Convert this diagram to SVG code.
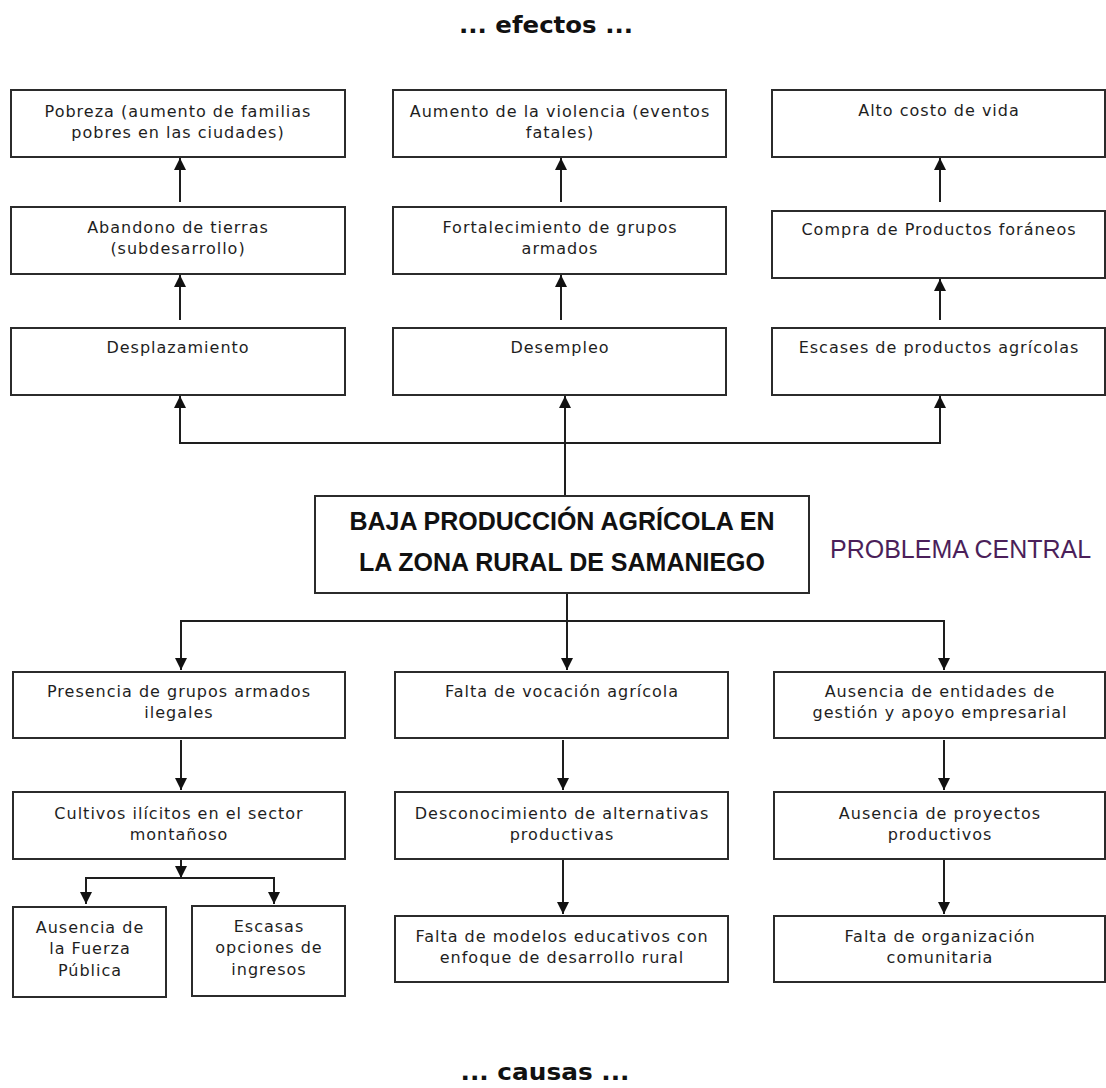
<svg xmlns="http://www.w3.org/2000/svg" width="1106" height="1088" viewBox="0 0 1106 1088">
  <style>
    .box { fill: #ffffff; stroke: #2b2b2b; stroke-width: 2; }
    .t { font-family: "DejaVu Sans", Verdana, sans-serif; font-size: 16px; letter-spacing: 1px; fill: #1e1e1e; text-anchor: middle; }
    .head { font-family: "DejaVu Sans", Verdana, sans-serif; font-size: 23px; font-weight: bold; fill: #111111; text-anchor: middle; }
    .central { font-family: "Liberation Sans", Arial, sans-serif; font-size: 25px; font-weight: bold; fill: #111111; text-anchor: middle; }
    .label { font-family: "Liberation Sans", Arial, sans-serif; font-size: 25px; fill: #4b1f5a; }
    .conn { fill: none; stroke: #1e1e1e; stroke-width: 2; marker-end: url(#arrow); }
    .line { fill: none; stroke: #1e1e1e; stroke-width: 2; }
  </style>
  <defs>
    <marker id="arrow" viewBox="0 0 12 12" refX="12" refY="6" markerWidth="12" markerHeight="12" markerUnits="userSpaceOnUse" orient="auto">
      <path d="M0,0 L12,6 L0,12 z" fill="#111111"/>
    </marker>
  </defs>
  <rect width="1106" height="1088" fill="#ffffff"/>

  <text class="head" x="546" y="33" textLength="174" lengthAdjust="spacingAndGlyphs">... efectos ...</text>
  <text class="head" x="545" y="1080" textLength="169" lengthAdjust="spacingAndGlyphs">... causas ...</text>

  <!-- connectors -->
  <g id="connectors">
    <!-- effects, left column -->
    <path class="conn" d="M180,202 V158"/>
    <path class="conn" d="M180,320 V275"/>
    <!-- effects, middle column -->
    <path class="conn" d="M561,202 V158"/>
    <path class="conn" d="M561,320 V275"/>
    <!-- effects, right column -->
    <path class="conn" d="M940,202 V158"/>
    <path class="conn" d="M940,320 V279"/>
    <!-- central problem up to first effects -->
    <path class="conn" d="M565,496 V396"/>
    <path class="conn" d="M565,443 H180 V396"/>
    <path class="conn" d="M565,443 H940 V396"/>
    <!-- central problem down to first causes -->
    <path class="conn" d="M567,593 V670"/>
    <path class="conn" d="M567,621 H181 V670"/>
    <path class="conn" d="M567,621 H944 V670"/>
    <!-- causes, left column -->
    <path class="conn" d="M181,740 V790"/>
    <path class="conn" d="M181,853 V878"/>
    <path class="conn" d="M181,878 H86 V904"/>
    <path class="conn" d="M181,878 H274 V904"/>
    <!-- causes, middle column -->
    <path class="conn" d="M563,740 V790"/>
    <path class="conn" d="M563,859 V914"/>
    <!-- causes, right column -->
    <path class="conn" d="M944,740 V790"/>
    <path class="conn" d="M944,859 V914"/>
  </g>

  <!-- effects -->
  <g id="pobreza">
    <rect class="box" x="11" y="90" width="334" height="67"/>
    <text class="t" x="178" y="117">Pobreza (aumento de familias</text>
    <text class="t" x="178" y="138">pobres en las ciudades)</text>
  </g>
  <g id="violencia">
    <rect class="box" x="393" y="90" width="333" height="67"/>
    <text class="t" x="560" y="117">Aumento de la violencia (eventos</text>
    <text class="t" x="560" y="138">fatales)</text>
  </g>
  <g id="costo-vida">
    <rect class="box" x="772" y="90" width="333" height="67"/>
    <text class="t" x="939" y="116">Alto costo de vida</text>
  </g>
  <g id="abandono">
    <rect class="box" x="11" y="207" width="334" height="67"/>
    <text class="t" x="178" y="233">Abandono de tierras</text>
    <text class="t" x="178" y="254">(subdesarrollo)</text>
  </g>
  <g id="grupos-armados">
    <rect class="box" x="393" y="207" width="333" height="67"/>
    <text class="t" x="560" y="233">Fortalecimiento de grupos</text>
    <text class="t" x="560" y="254">armados</text>
  </g>
  <g id="compra">
    <rect class="box" x="772" y="211" width="333" height="67"/>
    <text class="t" x="939" y="235">Compra de Productos foráneos</text>
  </g>
  <g id="desplazamiento">
    <rect class="box" x="11" y="328" width="334" height="67"/>
    <text class="t" x="178" y="353">Desplazamiento</text>
  </g>
  <g id="desempleo">
    <rect class="box" x="393" y="328" width="333" height="67"/>
    <text class="t" x="560" y="353">Desempleo</text>
  </g>
  <g id="escases">
    <rect class="box" x="772" y="328" width="333" height="67"/>
    <text class="t" x="939" y="353">Escases de productos agrícolas</text>
  </g>

  <!-- central problem -->
  <g id="problema">
    <rect class="box" x="315" y="496" width="494" height="97"/>
    <text class="central" x="562" y="530">BAJA PRODUCCIÓN AGRÍCOLA EN</text>
    <text class="central" x="562" y="571">LA ZONA RURAL DE SAMANIEGO</text>
  </g>
  <text class="label" x="830" y="558">PROBLEMA CENTRAL</text>

  <!-- causes -->
  <g id="presencia">
    <rect class="box" x="13" y="672" width="332" height="66"/>
    <text class="t" x="179" y="697">Presencia de grupos armados</text>
    <text class="t" x="179" y="718">ilegales</text>
  </g>
  <g id="vocacion">
    <rect class="box" x="395" y="672" width="333" height="66"/>
    <text class="t" x="562" y="697">Falta de vocación agrícola</text>
  </g>
  <g id="entidades">
    <rect class="box" x="774" y="672" width="331" height="66"/>
    <text class="t" x="940" y="697">Ausencia de entidades de</text>
    <text class="t" x="940" y="718">gestión y apoyo empresarial</text>
  </g>
  <g id="cultivos">
    <rect class="box" x="13" y="792" width="332" height="67"/>
    <text class="t" x="179" y="819">Cultivos ilícitos en el sector</text>
    <text class="t" x="179" y="840">montañoso</text>
  </g>
  <g id="desconocimiento">
    <rect class="box" x="395" y="792" width="333" height="67"/>
    <text class="t" x="562" y="819">Desconocimiento de alternativas</text>
    <text class="t" x="562" y="840">productivas</text>
  </g>
  <g id="proyectos">
    <rect class="box" x="774" y="792" width="331" height="67"/>
    <text class="t" x="940" y="819">Ausencia de proyectos</text>
    <text class="t" x="940" y="840">productivos</text>
  </g>
  <g id="fuerza-publica">
    <rect class="box" x="13" y="907" width="153" height="90"/>
    <text class="t" x="90" y="933">Ausencia de</text>
    <text class="t" x="90" y="954">la Fuerza</text>
    <text class="t" x="90" y="976">Pública</text>
  </g>
  <g id="ingresos">
    <rect class="box" x="192" y="906" width="153" height="90"/>
    <text class="t" x="269" y="932">Escasas</text>
    <text class="t" x="269" y="953">opciones de</text>
    <text class="t" x="269" y="975">ingresos</text>
  </g>
  <g id="modelos">
    <rect class="box" x="395" y="916" width="333" height="66"/>
    <text class="t" x="562" y="942">Falta de modelos educativos con</text>
    <text class="t" x="562" y="963">enfoque de desarrollo rural</text>
  </g>
  <g id="organizacion">
    <rect class="box" x="774" y="916" width="331" height="66"/>
    <text class="t" x="940" y="942">Falta de organización</text>
    <text class="t" x="940" y="963">comunitaria</text>
  </g>
</svg>
